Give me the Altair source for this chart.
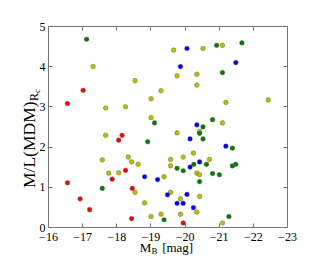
import altair as alt
import pandas as pd

# Absolute B magnitude and M/L(MDM)_Rc for each colour group
red_mb = [-16.57, -17.03, -18.07, -18.17, -16.57, -16.94, -17.22, -18.27, -17.88, -18.47, -18.45, -19.96]
red_ml = [3.07, 3.40, 2.16, 2.28, 1.10, 0.70, 0.43, 1.41, 1.19, 0.96, 0.21, 0.10]

green_mb = [-17.13, -19.12, -18.92, -17.59, -19.40, -20.94, -21.68, -21.11, -20.82, -20.54, -20.44,
            -20.54, -21.40, -20.27, -19.78, -19.96, -20.64, -20.44, -20.82, -21.02, -21.40, -21.50, -21.30]
green_ml = [4.67, 2.59, 2.12, 0.96, 0.18, 4.52, 4.58, 3.84, 2.67, 2.49, 2.33,
            2.19, 1.96, 1.56, 1.46, 1.40, 1.56, 1.13, 1.33, 1.30, 1.52, 1.56, 0.26]

blue_mb = [-20.07, -19.88, -21.50, -20.36, -20.16, -21.21, -20.44, -20.16, -18.83, -19.21,
           -19.50, -20.07, -19.78, -19.96, -20.26]
blue_ml = [4.44, 3.99, 4.09, 2.54, 2.19, 2.01, 1.62, 1.49, 1.25, 1.18,
           0.80, 0.81, 0.59, 0.59, 0.48]

yellow_mb = [-17.32, -17.69, -18.27, -18.55, -19.02, -19.31, -19.02, -17.69, -17.59, -17.78,
             -18.07, -18.35, -18.45, -18.64, -18.55, -18.83, -19.02, -19.31, -19.40, -19.59,
             -19.59, -19.59, -19.88, -19.88, -19.68, -19.78, -19.78, -19.96, -20.26, -20.54,
             -20.36, -20.36, -20.44, -20.36, -20.44, -20.73, -20.44, -20.36, -21.11, -21.21,
             -21.11, -22.45, -21.11]
yellow_ml = [3.99, 2.96, 2.99, 3.64, 3.19, 3.39, 2.72, 2.28, 1.67, 1.34,
             1.35, 1.74, 1.62, 1.56, 0.86, 0.60, 0.26, 0.32, 1.25, 1.68,
             1.52, 0.86, 0.70, 0.32, 4.40, 3.76, 2.34, 1.74, 1.84, 4.44,
             3.80, 3.53, 2.38, 1.34, 1.30, 1.68, 0.76, 0.37, 4.52, 3.10,
             2.59, 3.16, 0.10]

groups = ["red", "yellow", "green", "blue"]
colors = ["#ff0000", "#bfbf00", "#008000", "#0000ff"]
x_ticks = [-16, -17, -18, -19, -20, -21, -22, -23]
y_ticks = [0, 1, 2, 3, 4, 5]

rows = []
for g, xs, ys in [("red", red_mb, red_ml), ("yellow", yellow_mb, yellow_ml),
                  ("green", green_mb, green_ml), ("blue", blue_mb, blue_ml)]:
    for a, b in zip(xs, ys):
        rows.append({"MB": a, "ML": b, "grp": g})
df = pd.DataFrame(rows)

FONT = "Liberation Serif"
W, H = 239, 201
xscale = alt.Scale(domain=[-23, -16], reverse=True, nice=False, zero=False)
yscale = alt.Scale(domain=[0, 5], nice=False, zero=False)

common_axis = dict(grid=False, domain=False, tickColor="#777", tickWidth=1, tickSize=4,
                   offset=-4, labelFont=FONT, labelFontSize=12, labelColor="black",
                   labelFlush=False, labelOverlap=False, title=None)

pts = alt.Chart(df).mark_circle(size=22, opacity=1, stroke="#555", strokeWidth=0.4).encode(
    x=alt.X("MB:Q", scale=xscale,
            axis=alt.Axis(orient="bottom", values=x_ticks, format="d", labelPadding=4, **common_axis)),
    y=alt.Y("ML:Q", scale=yscale,
            axis=alt.Axis(orient="left", values=y_ticks, format="d", labelPadding=3, **common_axis)),
    color=alt.Color("grp:N", scale=alt.Scale(domain=groups, range=colors), legend=None),
)

tick_axis = dict(grid=False, domain=False, tickColor="#777", tickWidth=1, tickSize=4,
                 offset=-4, labels=False, title=None)
ghost = alt.Chart(df).mark_point(opacity=0).encode(
    x=alt.X("MB:Q", scale=xscale, axis=alt.Axis(orient="top", values=x_ticks, **tick_axis)),
    y=alt.Y("ML:Q", scale=yscale, axis=alt.Axis(orient="right", values=y_ticks, **tick_axis)),
)

one = alt.Data(values=[{"a": 1}])

def txt(s, x, y, size, angle=0, align="left", baseline="alphabetic"):
    kw = dict(text=s, font=FONT, fontSize=size, color="black", align=align, baseline=baseline)
    if angle:
        kw["angle"] = angle
    return alt.Chart(one).mark_text(**kw).encode(x=alt.value(x), y=alt.value(y))

labels = [
    txt("M", 91.7, 225.5, 13),
    txt("B", 103.5, 227.5, 9),
    txt("[mag]", 145.2, 225.5, 13, align="right"),
    txt("M/L(MDM)", -13.3, 162, 17.5, angle=270),
    txt("R", -10.0, 75, 12, angle=270),
    txt("c", -8.0, 67, 8.5, angle=270),
]

chart = alt.layer(pts, ghost, *labels).resolve_axis(x="independent", y="independent").properties(
    width=W, height=H,
    autosize=alt.AutoSizeParams(type="none"),
    padding={"left": 40, "top": 18, "right": 20, "bottom": 30},
).configure_view(stroke="#777", strokeWidth=1)

chart.save("out.html", embed_options={"renderer": "svg", "actions": False})
